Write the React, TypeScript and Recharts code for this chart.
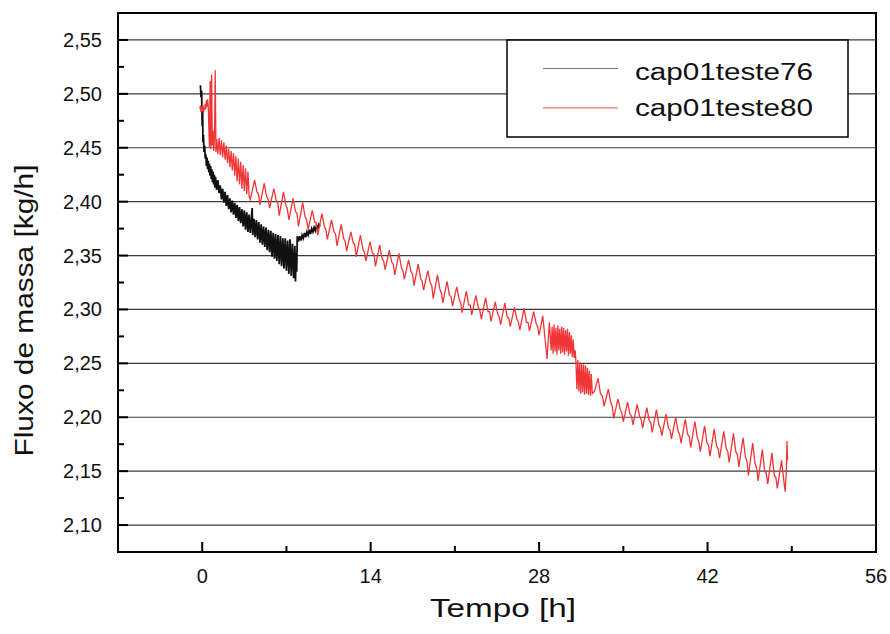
import React from 'react';
import { LineChart, Line, XAxis, YAxis, ReferenceLine, ReferenceArea, Legend } from 'recharts';

const FONT = '"Liberation Sans", Arial, Helvetica, sans-serif';

const seriesNames = ['cap01teste76', 'cap01teste80'];
const xTitle = 'Tempo [h]';
const yTitle = 'Fluxo de massa [kg/h]';

const xTicks = [0, 7, 14, 21, 28, 35, 42, 49, 56];
const yTicks = [2.1, 2.125, 2.15, 2.175, 2.2, 2.225, 2.25, 2.275, 2.3, 2.325, 2.35, 2.375, 2.4, 2.425, 2.45, 2.475, 2.5, 2.525, 2.55];
const yGrid = [2.1, 2.15, 2.2, 2.25, 2.3, 2.35, 2.4, 2.45, 2.5, 2.55];

// cap01teste76 (black)
const time76 = [
  -0.15, -0.1, -0.05, 0, 0.03, 0.06,
  0.1, 0.15, 0.2, 0.25, 0.3, 0.35, 0.4, 0.45, 0.5, 0.55, 0.6, 0.65, 0.7, 0.75, 0.8, 0.85, 0.9, 0.95, 1.0, 1.05, 1.1,
  1.2, 1.3, 1.4, 1.5, 1.6, 1.7, 1.8, 1.9, 2.0, 2.1, 2.2, 2.3, 2.4, 2.5, 2.6, 2.7, 2.8, 2.9, 3.0, 3.1, 3.2, 3.3, 3.4, 3.5, 3.6, 3.7, 3.8, 3.9, 4.0, 4.1,
  4.15,
  4.2, 4.3, 4.4, 4.5, 4.6, 4.7, 4.8, 4.9, 5.0, 5.1, 5.2, 5.3, 5.4, 5.5, 5.6, 5.7, 5.8, 5.9, 6.0, 6.1, 6.2, 6.3, 6.4, 6.5, 6.6, 6.7, 6.8, 6.9, 7.0, 7.1, 7.2, 7.3, 7.4, 7.5, 7.6, 7.7,
  7.75, 7.8, 7.85, 7.9,
  8.0, 8.1, 8.2, 8.3, 8.4, 8.5, 8.6, 8.7, 8.8, 8.9, 9.0, 9.1, 9.2, 9.3, 9.4, 9.5, 9.6, 9.7, 9.8,
];
const flux76 = [
  2.508, 2.497, 2.503, 2.470, 2.488, 2.455,
  2.462, 2.446, 2.452, 2.440, 2.444, 2.433, 2.441, 2.430, 2.438, 2.427, 2.435, 2.424, 2.433, 2.421, 2.430, 2.418, 2.428, 2.416, 2.425, 2.413, 2.423,
  2.411, 2.420, 2.408, 2.415, 2.402, 2.412, 2.399, 2.409, 2.396, 2.406, 2.393, 2.403, 2.390, 2.401, 2.388, 2.399, 2.385, 2.397, 2.382, 2.395, 2.380, 2.393, 2.377, 2.392, 2.374, 2.390, 2.372, 2.388, 2.371, 2.386,
  2.394,
  2.369, 2.384, 2.367, 2.383, 2.365, 2.381, 2.362, 2.379, 2.360, 2.377, 2.358, 2.376, 2.355, 2.374, 2.353, 2.373, 2.349, 2.371, 2.347, 2.370, 2.345, 2.369, 2.342, 2.368, 2.340, 2.366, 2.338, 2.366, 2.336, 2.364, 2.333, 2.365, 2.331, 2.361, 2.329, 2.359,
  2.326, 2.352, 2.335, 2.368,
  2.363, 2.368, 2.364, 2.369, 2.366, 2.371, 2.367, 2.372, 2.369, 2.374, 2.370, 2.375, 2.372, 2.376, 2.373, 2.378, 2.375, 2.379, 2.377,
];

// cap01teste80 (red)
const time80 = [
  -0.2, -0.15, -0.1, -0.05, 0, 0.05, 0.1, 0.15, 0.2, 0.25, 0.3, 0.35, 0.4, 0.45, 0.5, 0.55, 0.6,
  0.66, 0.72, 0.78, 0.84, 0.9, 0.96, 1.02, 1.08, 1.14, 1.2,
  1.3, 1.4, 1.5, 1.6, 1.7, 1.8, 1.9, 2.0, 2.1, 2.2, 2.3, 2.4, 2.5, 2.6, 2.7, 2.8, 2.9, 3.0, 3.1, 3.2, 3.3, 3.4, 3.5, 3.6, 3.7, 3.8, 3.9,
  4.0, 4.35, 4.55, 4.68, 4.8, 5.15, 5.35, 5.48, 5.6, 5.95, 6.15, 6.28,
  6.4, 6.75, 6.95, 7.08, 7.2, 7.55, 7.75, 7.88, 8.0, 8.35, 8.55, 8.68,
  8.8, 9.15, 9.35, 9.48, 9.6, 9.95, 10.15, 10.28, 10.4, 10.75, 10.95, 11.08,
  11.2, 11.55, 11.75, 11.88, 12.0, 12.35, 12.55, 12.68, 12.8, 13.15, 13.35, 13.48,
  13.6, 13.95, 14.15, 14.28, 14.4, 14.75, 14.95, 15.08, 15.2, 15.55, 15.75, 15.88,
  16.0, 16.35, 16.55, 16.68, 16.8, 17.15, 17.35, 17.48, 17.6, 17.95, 18.15, 18.28,
  18.4, 18.75, 18.95, 19.08, 19.2, 19.55, 19.75, 19.88, 20.0, 20.35, 20.55, 20.68,
  20.8, 21.15, 21.35, 21.48, 21.6, 21.95, 22.15, 22.28, 22.4, 22.75, 22.95, 23.08,
  23.2, 23.55, 23.75, 23.88, 24.0, 24.35, 24.55, 24.68, 24.8, 25.15, 25.35, 25.48,
  25.6, 25.95, 26.15, 26.28, 26.4, 26.75, 26.95, 27.08, 27.2, 27.55, 27.75, 27.88,
  28.0, 28.3, 28.5, 28.66, 28.85,
  29.0, 29.08, 29.16, 29.24, 29.32, 29.4, 29.48, 29.56, 29.64, 29.72, 29.8, 29.88, 29.96, 30.04, 30.12, 30.2, 30.28, 30.36, 30.44, 30.52, 30.6, 30.68, 30.76, 30.84, 30.92, 31.0,
  31.06, 31.14, 31.22, 31.3, 31.38, 31.46, 31.54, 31.62, 31.7, 31.78, 31.86, 31.94, 32.02, 32.1, 32.18, 32.26, 32.34, 32.42,
  32.6, 32.9, 33.1, 33.28, 33.4, 33.75, 33.95, 34.08, 34.2, 34.55, 34.75, 34.88,
  35.0, 35.35, 35.55, 35.68, 35.8, 36.15, 36.35, 36.48, 36.6, 36.95, 37.15, 37.28,
  37.4, 37.75, 37.95, 38.08, 38.2, 38.55, 38.75, 38.88, 39.0, 39.35, 39.55, 39.68,
  39.8, 40.15, 40.35, 40.48, 40.6, 40.95, 41.15, 41.28, 41.4, 41.75, 41.95, 42.08,
  42.2, 42.55, 42.75, 42.88, 43.0, 43.35, 43.55, 43.68, 43.8, 44.15, 44.35, 44.48,
  44.6, 44.95, 45.15, 45.28, 45.4, 45.75, 45.95, 46.08, 46.2, 46.55, 46.75, 46.88,
  47.0, 47.35, 47.55, 47.68, 47.8, 48.15, 48.35,
  48.45, 48.55, 48.6, 48.65,
];
const flux80 = [
  2.486, 2.489, 2.483, 2.488, 2.484, 2.490, 2.482, 2.487, 2.485, 2.491, 2.486, 2.494, 2.488, 2.495, 2.489, 2.470, 2.451,
  2.512, 2.449, 2.518, 2.452, 2.466, 2.447, 2.460, 2.522, 2.446, 2.458,
  2.444, 2.459, 2.443, 2.457, 2.441, 2.455, 2.439, 2.452, 2.436, 2.449, 2.432, 2.447, 2.429, 2.445, 2.424, 2.442, 2.419, 2.440, 2.416, 2.437, 2.412, 2.434, 2.410, 2.431, 2.407, 2.428, 2.405,
  2.402, 2.420, 2.409, 2.407, 2.397, 2.417, 2.405, 2.402, 2.394, 2.412, 2.401, 2.399,
  2.387, 2.409, 2.397, 2.393, 2.383, 2.403, 2.391, 2.389, 2.377, 2.399, 2.386, 2.383,
  2.374, 2.392, 2.381, 2.380, 2.369, 2.389, 2.377, 2.374, 2.365, 2.383, 2.372, 2.370,
  2.359, 2.379, 2.366, 2.363, 2.354, 2.372, 2.362, 2.360, 2.349, 2.369, 2.356, 2.353,
  2.345, 2.363, 2.352, 2.351, 2.340, 2.360, 2.347, 2.345, 2.337, 2.355, 2.344, 2.342,
  2.332, 2.352, 2.339, 2.336, 2.328, 2.346, 2.335, 2.333, 2.322, 2.342, 2.329, 2.326,
  2.318, 2.336, 2.325, 2.322, 2.310, 2.332, 2.319, 2.315, 2.306, 2.326, 2.313, 2.312,
  2.303, 2.321, 2.310, 2.306, 2.297, 2.317, 2.304, 2.304, 2.295, 2.313, 2.302, 2.299,
  2.291, 2.311, 2.298, 2.298, 2.289, 2.307, 2.296, 2.293, 2.286, 2.306, 2.293, 2.292,
  2.284, 2.302, 2.291, 2.288, 2.281, 2.301, 2.288, 2.288, 2.280, 2.298, 2.287, 2.284,
  2.276, 2.294, 2.272, 2.254, 2.288,
  2.262, 2.284, 2.259, 2.286, 2.261, 2.283, 2.258, 2.285, 2.262, 2.282, 2.259, 2.284, 2.260, 2.283, 2.258, 2.281, 2.261, 2.282, 2.257, 2.279, 2.259, 2.276, 2.256, 2.272, 2.255, 2.262,
  2.252, 2.226, 2.253, 2.224, 2.251, 2.222, 2.250, 2.223, 2.249, 2.221, 2.248, 2.222, 2.246, 2.221, 2.243, 2.220, 2.240, 2.222,
  2.224, 2.236, 2.222, 2.219, 2.210, 2.226, 2.214, 2.210, 2.199, 2.217, 2.207, 2.204,
  2.196, 2.214, 2.203, 2.201, 2.193, 2.212, 2.201, 2.198, 2.190, 2.209, 2.197, 2.195,
  2.186, 2.207, 2.193, 2.190, 2.183, 2.203, 2.190, 2.188, 2.180, 2.200, 2.187, 2.184,
  2.176, 2.198, 2.184, 2.182, 2.172, 2.196, 2.181, 2.177, 2.168, 2.192, 2.176, 2.174,
  2.164, 2.189, 2.173, 2.171, 2.162, 2.187, 2.171, 2.168, 2.158, 2.185, 2.168, 2.165,
  2.154, 2.181, 2.163, 2.159, 2.146, 2.176, 2.157, 2.153, 2.141, 2.170, 2.150, 2.148,
  2.138, 2.167, 2.146, 2.144, 2.134, 2.160, 2.140,
  2.131, 2.150, 2.178, 2.160,
];

const data76 = time76.map((t, i) => ({ t, v: flux76[i] }));
const data80 = time80.map((t, i) => ({ t, v: flux80[i] }));

const XTick = (props: any) => {
  const { x, y, payload } = props;
  const v = payload.value;
  const major = Math.abs(v % 14) < 1e-6;
  return (
    <g>
      <line x1={x} x2={x} y1={y} y2={y - (major ? 10 : 6)} stroke="#000" strokeWidth={2} />
      {major && (
        <text x={x} y={y + 31} textAnchor="middle" fontSize={20} fontFamily={FONT} fill="#111">
          {v}
        </text>
      )}
    </g>
  );
};

const YTick = (props: any) => {
  const { x, y, payload } = props;
  const v = payload.value;
  const major = Math.abs(v * 20 - Math.round(v * 20)) < 1e-6;
  return (
    <g>
      <line x1={x} x2={x + (major ? 10 : 6)} y1={y} y2={y} stroke="#000" strokeWidth={2} />
      {major && (
        <text x={x - 16} y={y + 7} textAnchor="end" fontSize={20} fontFamily={FONT} fill="#111">
          {v.toFixed(2).replace('.', ',')}
        </text>
      )}
    </g>
  );
};

const XTitle = (props: any) => {
  const vb = props.viewBox || { x: 118, y: 552, width: 758, height: 60 };
  const cx = vb.x + vb.width / 2 + 6;
  return (
    <text x={cx} y={vb.y + 65} textAnchor="middle" fontSize={26} fontFamily={FONT} fill="#111"
      textLength={146} lengthAdjust="spacingAndGlyphs">
      {xTitle}
    </text>
  );
};

const YTitle = (props: any) => {
  const vb = props.viewBox || { x: 40, y: 13, width: 78, height: 539 };
  const bx = vb.x - 7;
  const cy = vb.y + vb.height / 2 + 28;
  return (
    <text x={bx} y={cy} transform={`rotate(-90 ${bx} ${cy})`} textAnchor="middle" fontSize={26}
      fontFamily={FONT} fill="#111" textLength={292} lengthAdjust="spacingAndGlyphs">
      {yTitle}
    </text>
  );
};

const renderLegend = (props: any) => {
  const payload = props.payload || [];
  return (
    <svg width={344} height={100} style={{ display: 'block' }}>
      <rect x={1} y={1} width={341} height={97} fill="#fff" stroke="#000" strokeWidth={1.5} />
      {payload.map((p: any, i: number) => (
        <g key={i}>
          <line x1={37} x2={112} y1={29.5 + i * 39.4} y2={29.5 + i * 39.4}
            stroke={i === 0 ? '#777' : '#f05050'} strokeWidth={1} />
          <text x={129} y={40.5 + i * 36.7} fontSize={23} fontFamily={FONT} fill="#111"
            textLength={178} lengthAdjust="spacingAndGlyphs">
            {p.value}
          </text>
        </g>
      ))}
    </svg>
  );
};

export default function App() {
  return (
    <div style={{ position: 'absolute', left: 0, top: 0, width: 890, height: 634, background: '#fff' }}>
      <LineChart width={890} height={634} margin={{ top: 13, right: 14, bottom: 22, left: 40 }}>
        <XAxis
          type="number"
          dataKey="t"
          domain={[-7, 56]}
          ticks={xTicks}
          interval={0}
          allowDataOverflow
          height={60}
          tickSize={0}
          tickMargin={0}
          tickLine={false}
          axisLine={{ stroke: '#000', strokeWidth: 2 }}
          tick={<XTick />}
          label={<XTitle />}
        />
        <YAxis
          type="number"
          domain={[2.075, 2.575]}
          ticks={yTicks}
          interval={0}
          allowDataOverflow
          width={78}
          tickSize={0}
          tickMargin={0}
          tickLine={false}
          axisLine={{ stroke: '#000', strokeWidth: 2 }}
          tick={<YTick />}
          label={<YTitle />}
        />
        {yGrid.map((v) => (
          <ReferenceLine key={v} y={v} stroke="#3c3c3c" strokeWidth={1.2} ifOverflow="visible" />
        ))}
        <Line
          data={data76}
          dataKey="v"
          name={seriesNames[0]}
          type="linear"
          stroke="#111111"
          strokeWidth={1.8}
          dot={false}
          isAnimationActive={false}
        />
        <Line
          data={data80}
          dataKey="v"
          name={seriesNames[1]}
          type="linear"
          stroke="#ef3535"
          strokeWidth={1.3}
          dot={false}
          isAnimationActive={false}
        />
        <ReferenceArea x1={-7} x2={56} y1={2.075} y2={2.575} fill="none" stroke="#000" strokeWidth={2}
          ifOverflow="visible" />
        <Legend
          layout="vertical"
          verticalAlign="middle"
          align="center"
          content={renderLegend}
          wrapperStyle={{ position: 'absolute', left: 506, top: 39, width: 344, height: 100 }}
        />
      </LineChart>
    </div>
  );
}
